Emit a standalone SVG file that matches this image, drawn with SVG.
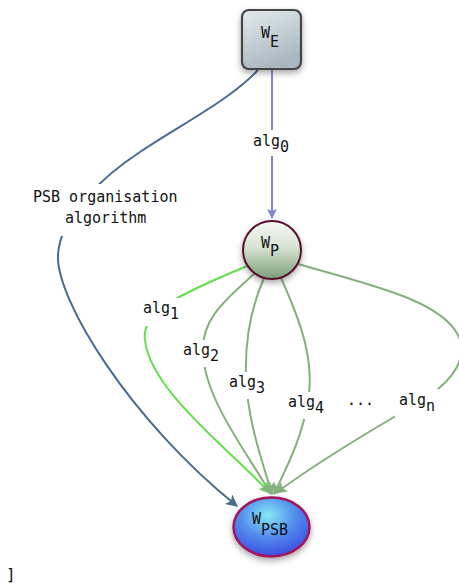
<svg xmlns="http://www.w3.org/2000/svg" width="459" height="583" viewBox="0 0 459 583">
<style>
.lbl{font-family:"DejaVu Sans Mono","Liberation Mono",monospace;font-size:15px;fill:#111}
.nl{font-family:"DejaVu Sans Mono","Liberation Mono",monospace;fill:#111}
.bg{fill:#fff}
.e{fill:none;stroke-width:2}
</style>
<defs>
<linearGradient id="gE" x1="0" y1="0" x2="0.4" y2="1">
<stop offset="0" stop-color="#e4ebee"/><stop offset="1" stop-color="#a9b8c0"/>
</linearGradient>
<linearGradient id="gP" x1="0" y1="0" x2="0" y2="1">
<stop offset="0" stop-color="#f6f9f4"/><stop offset="0.45" stop-color="#d6e3d2"/><stop offset="1" stop-color="#7c9e78"/>
</linearGradient>
<radialGradient id="gS" cx="0.45" cy="0.3" r="0.7">
<stop offset="0" stop-color="#86e8f8"/><stop offset="0.5" stop-color="#5590ee"/><stop offset="1" stop-color="#3b4fe0"/>
</radialGradient>
<filter id="sh" x="-30%" y="-30%" width="160%" height="170%">
<feDropShadow dx="0" dy="3" stdDeviation="3" flood-color="#000" flood-opacity="0.35"/>
</filter>
<marker id="aB" viewBox="0 0 10 10" refX="9" refY="5" markerWidth="15" markerHeight="10" orient="auto" markerUnits="userSpaceOnUse">
<path d="M0,0 L10,5 L0,10 L2,5 z" fill="#8585d6"/>
</marker>
<marker id="aS" viewBox="0 0 10 10" refX="9" refY="5" markerWidth="16" markerHeight="12" orient="auto" markerUnits="userSpaceOnUse">
<path d="M0,0 L10,5 L0,10 L2.5,5 z" fill="#4b6a90"/>
</marker>
<marker id="aG" viewBox="0 0 10 10" refX="9" refY="5" markerWidth="14" markerHeight="12" orient="auto" markerUnits="userSpaceOnUse">
<path d="M0,0 L10,5 L0,10 L2.5,5 z" fill="#85b07e"/>
</marker>
<marker id="aL" viewBox="0 0 10 10" refX="9" refY="5" markerWidth="14" markerHeight="12" orient="auto" markerUnits="userSpaceOnUse">
<path d="M0,0 L10,5 L0,10 L2.5,5 z" fill="#62de4c"/>
</marker>
</defs>
<rect width="459" height="583" fill="#fff"/>
<g id="connectors">
<path class="e" stroke="#8585d6" d="M272,70 L272,218" marker-end="url(#aB)"/>
<path class="e" stroke="#4b6a90" d="M258,70 C230,100 180,125 140,152 C105,175 60,215 58,255 C56,300 130,420 237,506" marker-end="url(#aS)"/>
<path class="e" stroke="#62de4c" d="M247,266 C190,290 140,310 145,340 C150,390 230,450 270,493" marker-end="url(#aL)"/>
<path class="e" stroke="#85b07e" d="M254,274 C225,300 200,320 203,355 C206,400 245,450 271,494" marker-end="url(#aG)"/>
<path class="e" stroke="#85b07e" d="M264,278 C250,310 245,340 246,375 C247,420 262,460 272,494" marker-end="url(#aG)"/>
<path class="e" stroke="#85b07e" d="M281,278 C300,320 315,360 308,400 C302,440 285,470 274,494" marker-end="url(#aG)"/>
<path class="e" stroke="#85b07e" d="M298,264 C370,285 440,300 458,335 C472,365 440,390 418,403 C380,425 320,460 276,493" marker-end="url(#aG)"/>
<rect class="bg" x="248" y="130" width="44" height="26"/>
<text class="lbl" x="253" y="146">alg<tspan dy="6">0</tspan></text>
<rect class="bg" x="28" y="184" width="155" height="52"/>
<text class="lbl" x="33" y="202">PSB organisation</text>
<text class="lbl" x="65" y="223">algorithm</text>
<rect class="bg" x="139" y="298" width="44" height="28"/>
<text class="lbl" x="143" y="313">alg<tspan dy="6">1</tspan></text>
<rect class="bg" x="179" y="340" width="44" height="27"/>
<text class="lbl" x="183" y="355">alg<tspan dy="6">2</tspan></text>
<rect class="bg" x="225" y="372" width="44" height="27"/>
<text class="lbl" x="229" y="387">alg<tspan dy="6">3</tspan></text>
<rect class="bg" x="284" y="392" width="44" height="27"/>
<text class="lbl" x="288" y="407">alg<tspan dy="6">4</tspan></text>
<text class="lbl" x="347" y="405">...</text>
<rect class="bg" x="395" y="389" width="44" height="28"/>
<text class="lbl" x="399" y="405">alg<tspan dy="6">n</tspan></text>
</g>
<g id="WE">
<rect x="242" y="10" width="59" height="59" rx="7" fill="url(#gE)" stroke="#454545" stroke-width="2.2" filter="url(#sh)"/>
<text class="nl" font-size="15" x="261" y="38">W<tspan dy="9">E</tspan></text>
</g>
<g id="WP">
<circle cx="272" cy="250" r="29" fill="url(#gP)" stroke="#57102e" stroke-width="2" filter="url(#sh)"/>
<text class="nl" font-size="15" x="261" y="248">W<tspan dy="8">P</tspan></text>
</g>
<g id="WPSB">
<ellipse cx="271.5" cy="527" rx="38" ry="29.5" fill="url(#gS)" stroke="#a3175a" stroke-width="2.5" filter="url(#sh)"/>
<text class="nl" font-size="15" x="252" y="524">W<tspan dy="11">PSB</tspan></text>
</g>
<text class="nl" font-size="16" x="6" y="580" fill="#333">]</text>
</svg>
